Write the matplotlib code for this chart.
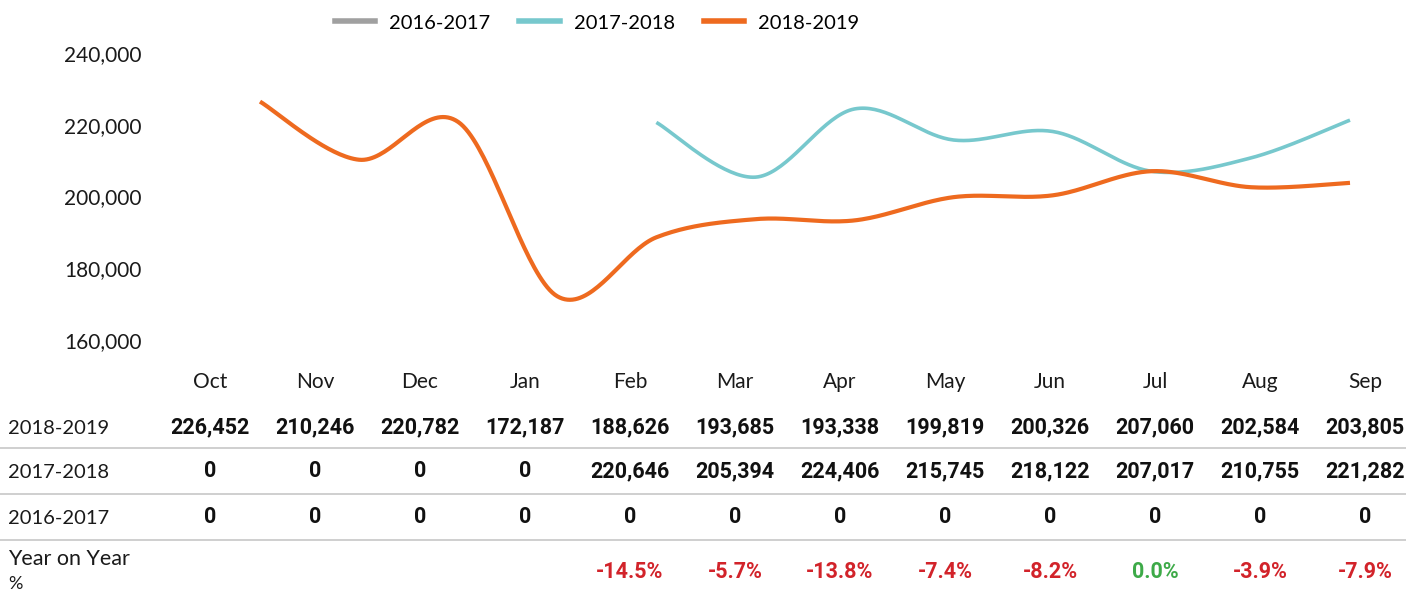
import numpy as np
import matplotlib.pyplot as plt
from matplotlib.lines import Line2D

# data
months = ["Oct", "Nov", "Dec", "Jan", "Feb", "Mar", "Apr", "May", "Jun", "Jul", "Aug", "Sep"]
s2018_2019 = [226452, 210246, 220782, 172187, 188626, 193685, 193338, 199819, 200326, 207060, 202584, 203805]
s2017_2018 = [0, 0, 0, 0, 220646, 205394, 224406, 215745, 218122, 207017, 210755, 221282]
s2016_2017 = [0, 0, 0, 0, 0, 0, 0, 0, 0, 0, 0, 0]
yoy_labels = ["", "", "", "", "-14.5%", "-5.7%", "-13.8%", "-7.4%", "-8.2%", "0.0%", "-3.9%", "-7.9%"]
y_ticks = [160000, 180000, 200000, 220000, 240000]

GRAY = "#a0a0a0"
TEAL = "#77c8cd"
ORANGE = "#ee6a1f"
RED = "#d2232a"
GREEN = "#3daa48"

W, H = 1406, 594


def smooth(xs, ys, n=40):
    # Excel-like smoothed line: cubic bezier with catmull-rom control points
    xs = np.asarray(xs, float)
    ys = np.asarray(ys, float)
    k = len(xs)
    out_x, out_y = [], []
    t = np.linspace(0, 1, n)
    for i in range(k - 1):
        i0, i3 = max(i - 1, 0), min(i + 2, k - 1)
        p0 = np.array([xs[i0], ys[i0]])
        p1 = np.array([xs[i], ys[i]])
        p2 = np.array([xs[i + 1], ys[i + 1]])
        p3 = np.array([xs[i3], ys[i3]])
        c1 = p1 + (p2 - p0) / 6
        c2 = p2 - (p3 - p1) / 6
        b = ((1 - t) ** 3)[:, None] * p1 + (3 * (1 - t) ** 2 * t)[:, None] * c1 \
            + (3 * (1 - t) * t ** 2)[:, None] * c2 + (t ** 3)[:, None] * p2
        out_x.extend(b[:, 0])
        out_y.extend(b[:, 1])
    return out_x, out_y


def fx(px):
    return px / W


def fy(py):
    return 1 - py / H


plt.rcParams['font.family'] = ['Lato', 'DejaVu Sans']
BOLD = ['Roboto', 'DejaVu Sans']
TXT = "#1a1a1a"

fig = plt.figure(figsize=(W / 100, H / 100), dpi=100)
ax_left, ax_right = 150, 1400
ax = fig.add_axes([fx(ax_left), fy(340), fx(ax_right - ax_left), (340 - 53) / H])

# x range so that Oct sits at px 260 and Sep at px 1350
step = (1350 - 260) / 11
xmin = -(260 - ax_left) / step
xmax = xmin + (ax_right - ax_left) / step
x = np.arange(len(months))

for vals, color, lw in [(s2016_2017, GRAY, 2.5), (s2017_2018, TEAL, 2.6), (s2018_2019, ORANGE, 3.0)]:
    xs = [xi for xi, v in zip(x, vals) if v > 0]
    ys = [v for v in vals if v > 0]
    if len(xs) > 1:
        sx, sy = smooth(xs, ys)
        ax.plot(sx, sy, color=color, lw=lw, solid_capstyle='butt')

ax.set_xlim(xmin, xmax)
ax.set_ylim(160000, 240000)
ax.set_yticks(y_ticks)
ax.set_yticklabels([f"{v:,}" for v in y_ticks], fontsize=15, color=TXT)
ax.set_xticks([])
ax.tick_params(axis='y', length=0, pad=6)
for sp in ax.spines.values():
    sp.set_visible(False)

handles = [Line2D([], [], color=GRAY, lw=4), Line2D([], [], color=TEAL, lw=4), Line2D([], [], color=ORANGE, lw=4)]
fig.legend(handles, ["2016-2017", "2017-2018", "2018-2019"], loc='center', bbox_to_anchor=(fx(597), fy(23)),
           ncol=3, frameon=False, fontsize=14.5, handlelength=2.0, handletextpad=0.7, columnspacing=1.45)

# table below the chart
col_x = [210 + 105 * i for i in range(len(months))]
for cx, m in zip(col_x, months):
    fig.text(fx(cx), fy(382), m, ha='center', va='center', fontsize=15, color=TXT)

rows = [("2018-2019", s2018_2019, 427), ("2017-2018", s2017_2018, 471), ("2016-2017", s2016_2017, 517)]
for label, vals, py in rows:
    fig.text(fx(8), fy(py + 2), label, ha='left', va='center', fontsize=14.5, color=TXT)
    for cx, v in zip(col_x, vals):
        fig.text(fx(cx), fy(py), f"{v:,}", ha='center', va='center', fontsize=15.5,
                 fontweight='bold', color="#111111", family=BOLD)

for py in [448, 494, 540]:
    fig.add_artist(Line2D([0, 1], [fy(py), fy(py)], color="#cccccc", lw=1.3, transform=fig.transFigure))

fig.text(fx(8), fy(559), "Year on Year", ha='left', va='center', fontsize=15.5, color=TXT)
fig.text(fx(8), fy(584), "%", ha='left', va='center', fontsize=13, color=TXT)
for cx, s in zip(col_x, yoy_labels):
    if s:
        c = GREEN if not s.startswith("-") else RED
        fig.text(fx(cx), fy(572), s, ha='center', va='center', fontsize=15.5,
                 fontweight='bold', color=c, family=BOLD)

fig.savefig("out.png", dpi=100)
